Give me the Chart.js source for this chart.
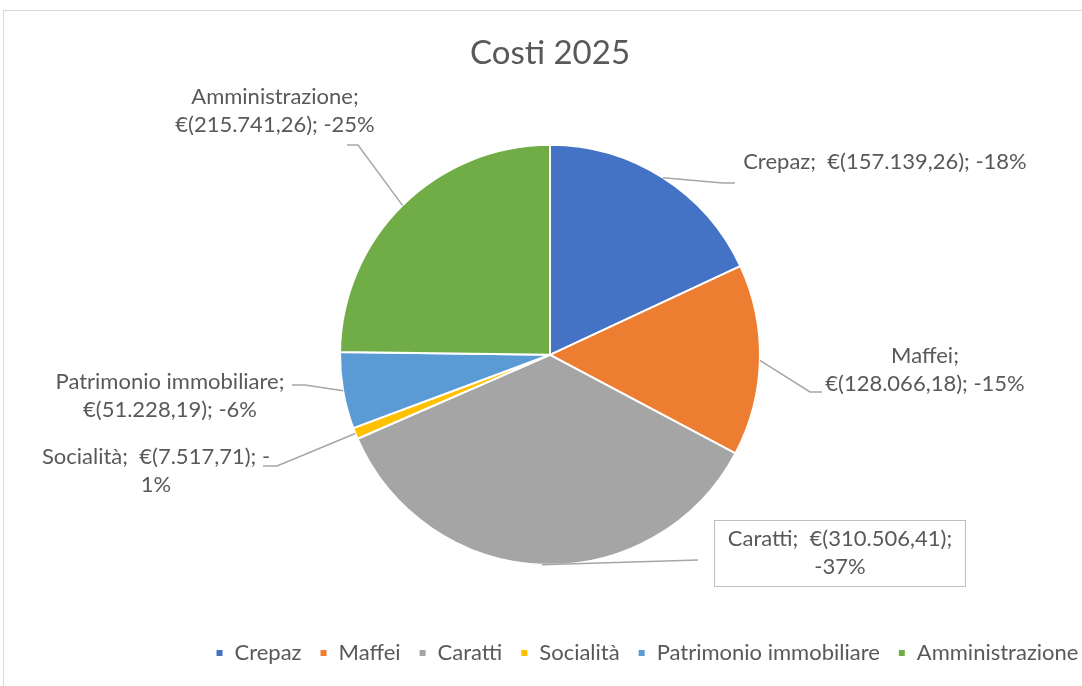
<!DOCTYPE html>
<html>
<head>
<meta charset="utf-8">
<script src="https://cdn.jsdelivr.net/npm/chart.js@4"></script>
<style>
    html, body { margin: 0; padding: 0; background: #fff; overflow: hidden; }
    #wrap { position: relative; width: 1082px; height: 686px; }
    #chart { position: absolute; left: 0; top: 0; }
    #frame {
        position: absolute; left: 3px; top: 10px; width: 1200px; height: 800px;
        border: 1px solid #d9d9d9; box-sizing: border-box; pointer-events: none;
    }
</style>
</head>
<body>
<div id="wrap">
    <canvas id="chart" width="1082" height="686"></canvas>
    <div id="frame"></div>
</div>
<script>
// Dati
const categories = ['Crepaz', 'Maffei', 'Caratti', 'Socialità', 'Patrimonio immobiliare', 'Amministrazione'];
const costs = [157139.26, 128066.18, 310506.41, 7517.71, 51228.19, 215741.26];
const percentLabels = [18, 15, 37, 1, 6, 25];   // come riportato nelle etichette
const colors = ['#4472C4', '#ED7D31', '#A5A5A5', '#FFC000', '#5B9BD5', '#70AD47'];

// Posizione delle etichette (stile, non dati)
const labelLayout = [
    { wrap: 'none',  cx: 885, y: 162, path: [[723, 183], [735, 183]] },
    { wrap: 'name',  cx: 925, y: 356, path: [[810, 392], [822, 392]] },
    { wrap: 'money', cx: 840, y: 539, path: [[698, 560]], box: [714, 520, 251, 66] },
    { wrap: 'dash',  cx: 156, y: 457, path: [[277, 466], [263, 466]] },
    { wrap: 'name',  cx: 170, y: 382, path: [[305, 385], [292, 385]] },
    { wrap: 'name',  cx: 275, y: 97,  path: [[358, 145], [347, 145]] }
];

const FONT = 'Lato, "Open Sans", sans-serif';
const TEXT_COLOR = '#595959';

// 157139.26 -> 157.139,26
function formatEuro(v) {
    const parts = v.toFixed(2).split('.');
    const intPart = parts[0].replace(/\B(?=(\d{3})+(?!\d))/g, '.');
    return intPart + ',' + parts[1];
}

function labelLines(i) {
    const name = categories[i];
    const money = '€(' + formatEuro(costs[i]) + ')';
    const pct = percentLabels[i] + '%';
    switch (labelLayout[i].wrap) {
        case 'name':  return [name + ';', money + '; -' + pct];
        case 'money': return [name + ';  ' + money + ';', '-' + pct];
        case 'dash':  return [name + ';  ' + money + '; -', pct];
        default:      return [name + ';  ' + money + '; -' + pct];
    }
}

// Etichette con linee guida
const pieLabels = {
    id: 'pieLabels',
    afterDatasetsDraw(chart) {
        const ctx = chart.ctx;
        const arcs = chart.getDatasetMeta(0).data;
        ctx.save();
        arcs.forEach((arc, i) => {
            const lay = labelLayout[i];
            const mid = (arc.startAngle + arc.endAngle) / 2;
            const x0 = arc.x + Math.cos(mid) * arc.outerRadius;
            const y0 = arc.y + Math.sin(mid) * arc.outerRadius;

            ctx.strokeStyle = '#a6a6a6';
            ctx.lineWidth = 1.5;
            ctx.beginPath();
            ctx.moveTo(x0, y0);
            lay.path.forEach(p => ctx.lineTo(p[0], p[1]));
            ctx.stroke();

            if (lay.box) {
                ctx.strokeStyle = '#bfbfbf';
                ctx.lineWidth = 1;
                ctx.strokeRect(lay.box[0] + 0.5, lay.box[1] + 0.5, lay.box[2], lay.box[3]);
            }

            ctx.fillStyle = TEXT_COLOR;
            ctx.font = '22px ' + FONT;
            ctx.textAlign = 'center';
            ctx.textBaseline = 'middle';
            labelLines(i).forEach((t, k) => ctx.fillText(t, lay.cx, lay.y + k * 28));
        });
        ctx.restore();
    }
};

// La legenda di Excel è spostata a destra rispetto alla torta
const legendShift = {
    id: 'legendShift',
    afterLayout(chart) {
        chart.legend.left += 97;
        chart.legend.right += 97;
    }
};

new Chart(document.getElementById('chart'), {
    type: 'pie',
    data: {
        labels: categories,
        datasets: [{
            data: costs,
            backgroundColor: colors,
            borderColor: '#ffffff',
            borderWidth: 2
        }]
    },
    options: {
        responsive: false,
        animation: false,
        radius: 210,
        layout: { padding: { top: 20, left: 18, right: 0, bottom: 12 } },
        plugins: {
            title: {
                display: true,
                text: 'Costi 2025',
                color: TEXT_COLOR,
                font: { family: FONT, size: 33, weight: 'normal' },
                padding: { top: 14, bottom: 12 }
            },
            legend: {
                position: 'bottom',
                labels: {
                    color: TEXT_COLOR,
                    font: { family: FONT, size: 22 },
                    boxWidth: 8,
                    boxHeight: 8,
                    padding: 18
                }
            },
            tooltip: { enabled: false }
        }
    },
    plugins: [pieLabels, legendShift]
});
</script>
</body>
</html>
